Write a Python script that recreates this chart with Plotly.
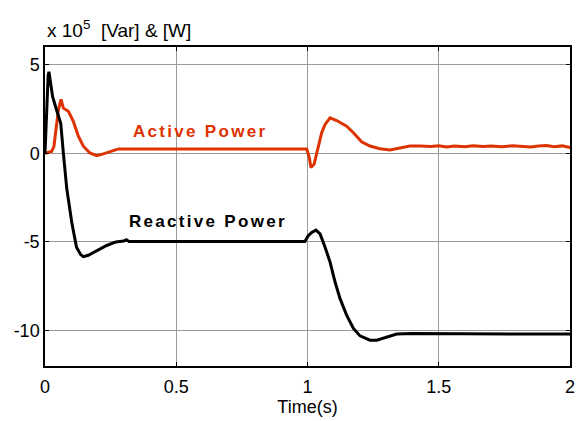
import plotly.graph_objects as go

# Reactive power (x 1e5 Var)
t_reactive = [0, 0.004, 0.008, 0.012, 0.015, 0.019, 0.024, 0.029, 0.045, 0.06, 0.07, 0.083,
              0.102, 0.12, 0.135, 0.146, 0.165, 0.184, 0.21, 0.235, 0.27, 0.3, 0.31, 0.32,
              0.4, 0.6, 0.8, 0.99, 1.003, 1.016, 1.032, 1.048, 1.067, 1.086, 1.105, 1.124,
              1.149, 1.175, 1.2, 1.238, 1.264, 1.3, 1.34, 1.4, 1.6, 1.8, 1.9, 2.0]
v_reactive = [0, 1.5, 3.5, 4.4, 4.6, 4.2, 3.5, 3.2, 2.4, 1.7, 0.0, -2.0,
              -3.9, -5.3, -5.7, -5.83, -5.75, -5.6, -5.35, -5.2, -5.0, -4.95, -4.88, -4.97,
              -4.97, -4.97, -4.97, -4.97, -4.65, -4.46, -4.33, -4.55, -5.3, -6.14, -7.26, -8.2,
              -9.13, -9.88, -10.3, -10.54, -10.54, -10.4, -10.2, -10.17, -10.17, -10.17, -10.2, -10.2]

# Active power (x 1e5 W)
t_active = [0, 0.01, 0.025, 0.034, 0.044, 0.051, 0.061, 0.07, 0.089, 0.108, 0.127, 0.146,
            0.171, 0.197, 0.222, 0.254, 0.28, 0.3, 0.5, 0.8, 0.997, 1.007, 1.013, 1.025,
            1.037, 1.054, 1.067, 1.086, 1.111, 1.149, 1.175, 1.206, 1.238, 1.276, 1.314,
            1.352, 1.39, 1.43, 1.47, 1.5, 1.53, 1.56, 1.6, 1.63, 1.67, 1.7, 1.74, 1.78,
            1.81, 1.85, 1.88, 1.91, 1.94, 1.97, 2.0]
v_active = [0, 0.05, 0.1, 0.4, 1.7, 2.45, 3.05, 2.55, 2.37, 1.8, 0.97, 0.4,
            0.02, -0.13, -0.03, 0.12, 0.25, 0.25, 0.25, 0.25, 0.25, -0.25, -0.8, -0.62,
            0.13, 1.16, 1.63, 2.0, 1.85, 1.53, 1.16, 0.65, 0.41, 0.26, 0.19,
            0.31, 0.41, 0.42, 0.38, 0.43, 0.36, 0.42, 0.37, 0.43, 0.38, 0.42, 0.37, 0.43,
            0.41, 0.36, 0.42, 0.44, 0.37, 0.42, 0.33]

x_ticks = [0, 0.5, 1, 1.5, 2]
x_tick_labels = ["0", "0.5", "1", "1.5", "2"]
y_ticks = [-10, -5, 0, 5]
y_tick_labels = ["-10", "-5", "0", "5"]

FONT = "Arial, 'Liberation Sans', sans-serif"
RED = "#dc3300"

fig = go.Figure()
fig.add_trace(go.Scatter(x=t_active, y=v_active, mode="lines",
                         line=dict(color=RED, width=3), name="Active Power"))
fig.add_trace(go.Scatter(x=t_reactive, y=v_reactive, mode="lines",
                         line=dict(color="black", width=3), name="Reactive Power"))

axis_common = dict(showline=True, linecolor="black", linewidth=1.5, mirror="ticks",
                   ticks="inside", ticklen=4, tickcolor="black", showgrid=True,
                   gridcolor="#9a9a9a", gridwidth=1, zeroline=False, automargin=False,
                   tickfont=dict(family=FONT, size=18, color="black"))

fig.update_xaxes(range=[0, 2], tickvals=x_ticks, ticktext=x_tick_labels, ticklabelstandoff=4,
                 title=dict(text="Time(s)", font=dict(family=FONT, size=18, color="black"),
                            standoff=0), **axis_common)
fig.update_yaxes(range=[-12, 6], tickvals=y_ticks, ticktext=y_tick_labels, **axis_common)

fig.add_annotation(x=0.59, y=1.25, xref="x", yref="y", showarrow=False,
                   text="<b><span style='letter-spacing:2.3px'>Active Power</span></b>",
                   font=dict(family=FONT, size=17, color=RED))
fig.add_annotation(x=0.62, y=-3.84, xref="x", yref="y", showarrow=False,
                   text="<b><span style='letter-spacing:2.3px'>Reactive Power</span></b>",
                   font=dict(family=FONT, size=17, color="black"))
fig.add_annotation(x=0, y=1.0, xref="paper", yref="paper", xanchor="left", yanchor="bottom",
                   yshift=4, showarrow=False,
                   text="x 10<sup>5</sup>  [Var] & [W]",
                   font=dict(family=FONT, size=19, color="black"))

fig.update_layout(width=579, height=421, margin=dict(l=45, r=9, t=47, b=55),
                  paper_bgcolor="white", plot_bgcolor="white", showlegend=False,
                  font=dict(family=FONT, color="black"))

fig.write_html("out.html")
